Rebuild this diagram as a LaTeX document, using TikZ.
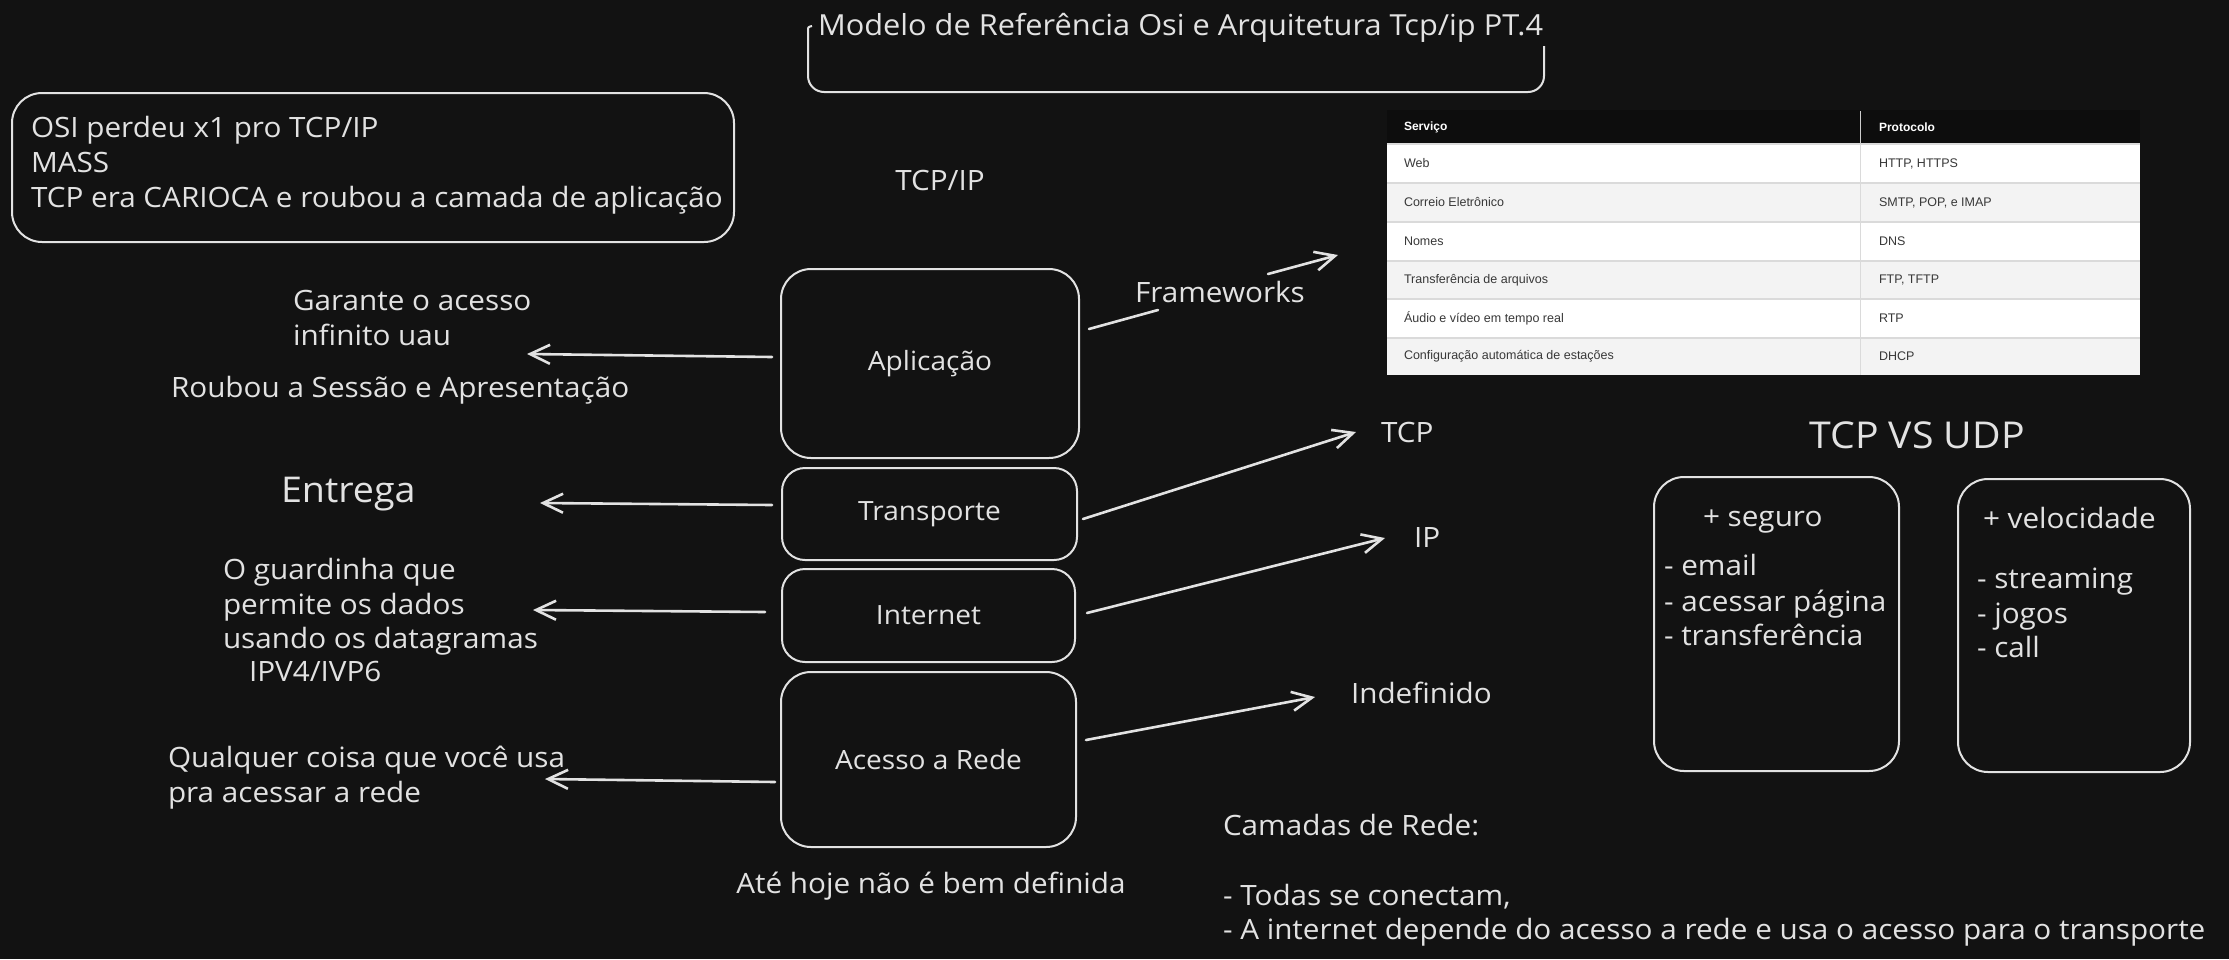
\documentclass[tikz,border=0pt]{standalone}
\usepackage{fontspec}
\setmainfont{Open Sans}[FakeStretch=1.06]
\newfontfamily\tablefont{Liberation Sans}
\usetikzlibrary{arrows.meta}
\definecolor{bgc}{HTML}{121212}
\definecolor{ink}{HTML}{E2E2E2}
\definecolor{hdr}{HTML}{0D0D0D}
\definecolor{rowgray}{HTML}{F3F3F3}
\definecolor{rowline}{HTML}{DADADA}
\definecolor{celltext}{HTML}{383838}
\begin{document}
\begin{tikzpicture}[x=1pt,y=-1pt,
  every node/.style={inner sep=0pt, outer sep=0pt},
  sk/.style={text=ink, font=\fontsize{28}{35}\selectfont},
  ttl/.style={text=ink, font=\fontsize{29}{35}\selectfont},
  big/.style={text=ink, font=\fontsize{35.5}{44}\selectfont},
  vs/.style={text=ink, font=\fontsize{37}{44}\selectfont},
  layerbox/.style={draw=ink, line width=2pt, text=ink, font=\fontsize{26.5}{35}\selectfont},
  frame/.style={draw=ink, line width=2pt},
  arr/.style={draw=ink, line width=2.6pt, line cap=round, -{Straight Barb[length=20pt,width=19pt,line width=2.6pt]}},
  seg/.style={draw=ink, line width=2.6pt, line cap=round},
  cell/.style={text=celltext, font=\tablefont\fontsize{12.5}{14}\selectfont, anchor=west},
  head/.style={text=white, font=\tablefont\bfseries\fontsize{12}{14}\selectfont, anchor=west}]
\useasboundingbox (0,0) rectangle (2229,959);
\fill[bgc] (0,0) rectangle (2229,959);

% ---------- title ----------
\draw[frame, rounded corners=16pt] (808,40) -- (808,92) -- (1544,92) -- (1544,40);
\draw[frame] (808,40) -- (808,31) .. controls (808,27) .. (812,26);
\draw[frame] (1544,40) -- (1544,31) .. controls (1544,27) .. (1540,26);
\node[ttl, anchor=base west, fill=bgc, inner xsep=3pt, inner ysep=4pt] (title) at (815,35) {Modelo de Referência Osi e Arquitetura Tcp/ip PT.4};

% ---------- OSI note ----------
\node[frame, rounded corners=30pt, minimum width=722pt, minimum height=149pt] (osibox) at (373,167.5) {};
\node[sk, anchor=base west] (osi1) at (31,137) {OSI perdeu x1 pro TCP/IP};
\node[sk, anchor=base west] (osi2) at (31,172) {MASS};
\node[sk, anchor=base west] (osi3) at (31,207) {TCP era CARIOCA e roubou a camada de aplicação};

\node[sk, anchor=base] (tcpip) at (940,190) {TCP/IP};

% ---------- table ----------
\fill[hdr] (1387,110) rectangle (2140,144);
\fill[white]   (1387,144) rectangle (2140,183);
\fill[rowgray] (1387,183) rectangle (2140,222);
\fill[white]   (1387,222) rectangle (2140,261);
\fill[rowgray] (1387,261) rectangle (2140,299);
\fill[white]   (1387,299) rectangle (2140,338);
\fill[rowgray] (1387,338) rectangle (2140,375);
\foreach \yy in {144,183,222,261,299,338}{
  \draw[rowline, line width=1.2pt] (1387,\yy) -- (2140,\yy);
}
\draw[rowline, line width=1pt] (1860,144) -- (1860,375);
\draw[white!80!black, line width=1pt] (1860,111) -- (1860,144);
\node[head] (h1) at (1404,127) {Serviço};
\node[head] (h2) at (1879,127) {Protocolo};
\node[cell] (c11) at (1404,163.5) {Web};
\node[cell] (c12) at (1879,163.5) {HTTP, HTTPS};
\node[cell] (c21) at (1404,202.5) {Correio Eletrônico};
\node[cell] (c22) at (1879,202.5) {SMTP, POP, e IMAP};
\node[cell] (c31) at (1404,241.5) {Nomes};
\node[cell] (c32) at (1879,241.5) {DNS};
\node[cell] (c41) at (1404,280) {Transferência de arquivos};
\node[cell] (c42) at (1879,280) {FTP, TFTP};
\node[cell] (c51) at (1404,318.5) {Áudio e vídeo em tempo real};
\node[cell] (c52) at (1879,318.5) {RTP};
\node[cell] (c61) at (1404,356.5) {Configuração automática de estações};
\node[cell] (c62) at (1879,356.5) {DHCP};

% ---------- layers ----------
\node[layerbox, rounded corners=30pt, minimum width=298pt, minimum height=189pt] (apl) at (930,363.5) {Aplicação};
\node[layerbox, rounded corners=23pt, minimum width=295pt, minimum height=92pt] (trans) at (929.5,514) {Transporte};
\node[layerbox, rounded corners=23pt, minimum width=293pt, minimum height=93pt] (inet) at (928.5,615.5) {Internet};
\node[layerbox, rounded corners=30pt, minimum width=295pt, minimum height=175pt] (acc) at (928.5,759.5) {Acesso a Rede};

% ---------- left notes ----------
\node[sk, anchor=base west] (gar1) at (293,310) {Garante o acesso};
\node[sk, anchor=base west] (gar2) at (293,345) {infinito uau};
\node[sk, anchor=base west] (roub) at (171,397) {Roubou a Sessão e Apresentação};
\node[big, anchor=base west] (entr) at (281,502) {Entrega};
\node[sk, anchor=base west] (gua1) at (223,579) {O guardinha que};
\node[sk, anchor=base west] (gua2) at (223,614) {permite os dados};
\node[sk, anchor=base west] (gua3) at (223,648) {usando os datagramas};
\node[sk, anchor=base west] (gua4) at (249,681) {IPV4/IVP6};
\node[sk, anchor=base west] (qua1) at (168,767) {Qualquer coisa que você usa};
\node[sk, anchor=base west] (qua2) at (168,802) {pra acessar a rede};
\node[sk, anchor=base] (ate) at (931,893) {Até hoje não é bem definida};

\coordinate (aplL) at (772,357);   \coordinate (aplT) at (527,354);
\coordinate (traL) at (772,505);   \coordinate (traT) at (540,503);
\coordinate (ineL) at (765,612);   \coordinate (ineT) at (533,610);
\coordinate (accL) at (775,782);   \coordinate (accT) at (545,779);
\draw[arr] (aplL) -- (aplT);
\draw[arr] (traL) -- (traT);
\draw[arr] (ineL) -- (ineT);
\draw[arr] (accL) -- (accT);

% ---------- right labels and arrows ----------
\node[sk, anchor=base west] (fw) at (1135,302) {Frameworks};
\node[sk, anchor=base west] (tcp) at (1381,442) {TCP};
\node[sk, anchor=base west] (ip) at (1414,547) {IP};
\node[sk, anchor=base west] (indef) at (1351,703) {Indefinido};

\coordinate (aplR) at (1089,329);
\coordinate (fwA) at (1158,310);
\coordinate (fwB) at (1268,274);
\coordinate (fwT) at (1338,255);
\draw[seg] (aplR) -- (fwA);
\draw[arr] (fwB) -- (fwT);
\coordinate (traR) at (1083,519);  \coordinate (tcpT) at (1356,432);
\coordinate (ineR) at (1087,613);  \coordinate (ipT) at (1385,538);
\coordinate (accR) at (1086,740);  \coordinate (indT) at (1315,697);
\draw[arr] (traR) -- (tcpT);
\draw[arr] (ineR) -- (ipT);
\draw[arr] (accR) -- (indT);

% ---------- camadas de rede ----------
\node[sk, anchor=base west] (cam1) at (1223,835) {Camadas de Rede:};
\node[sk, anchor=base west] (cam2) at (1223,905) {- Todas se conectam,};
\node[sk, anchor=base west] (cam3) at (1223,939) {- A internet depende do acesso a rede e usa o acesso para o transporte};

% ---------- TCP vs UDP ----------
\node[vs, anchor=base] (vstitle) at (1917,448) {TCP VS UDP};
\node[frame, rounded corners=30pt, minimum width=245pt, minimum height=294pt] (tcpbox) at (1776.5,624) {};
\node[frame, rounded corners=30pt, minimum width=232pt, minimum height=293pt] (udpbox) at (2074,625.5) {};
\node[sk, anchor=base west] (t0) at (1703,526) {+ seguro};
\node[sk, anchor=base west] (t1) at (1664,575) {- email};
\node[sk, anchor=base west] (t2) at (1664,611) {- acessar página};
\node[sk, anchor=base west] (t3) at (1664,645) {- transferência};
\node[sk, anchor=base west] (u0) at (1983,528) {+ velocidade};
\node[sk, anchor=base west] (u1) at (1977,588) {- streaming};
\node[sk, anchor=base west] (u2) at (1977,623) {- jogos};
\node[sk, anchor=base west] (u3) at (1977,657) {- call};
\end{tikzpicture}
\end{document}
